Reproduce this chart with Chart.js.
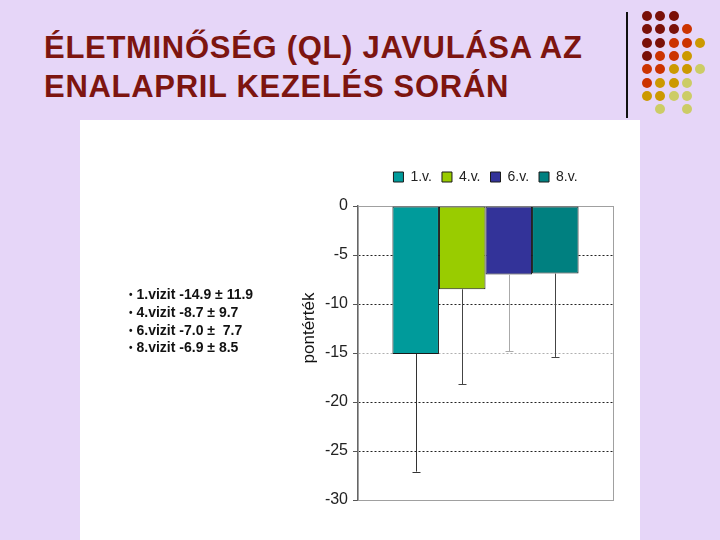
<!DOCTYPE html>
<html>
<head>
<meta charset="utf-8">
<script src="https://cdn.jsdelivr.net/npm/chart.js@4.4.0/dist/chart.umd.min.js"></script>
<style>
  body { margin: 0; width: 720px; height: 540px; background: #e6d6f8; position: relative; overflow: hidden; font-family: "Liberation Sans", Arial, sans-serif; }
  #title { position: absolute; left: 44px; top: 28px; margin: 0; font-size: 31px; line-height: 39px; font-weight: bold; color: #7d1510; letter-spacing: 0.7px; }
  #vline { position: absolute; left: 626px; top: 12px; width: 2px; height: 106px; background: #111; }
  .dot { position: absolute; width: 10px; height: 10px; border-radius: 50%; }
  #panel { position: absolute; left: 80px; top: 120px; width: 560px; height: 420px; background: #fff; }
  #notes { position: absolute; left: 129px; top: 286px; margin: 0; padding: 0; list-style: none; font-size: 14px; font-weight: bold; line-height: 17.8px; color: #111; }
  #notes li { white-space: pre; }
  #notes li::before { content: "\2022"; margin-right: 4px; font-size: 10px; vertical-align: 1px; }
</style>
</head>
<body>
<h1 id="title">ÉLETMINŐSÉG (QL) JAVULÁSA AZ<br>ENALAPRIL KEZELÉS SORÁN</h1>
<div id="vline"></div>
<div id="dots"></div>
<div id="panel"><canvas id="chart" width="560" height="420"></canvas></div>
<ul id="notes">
  <li>1.vizit -14.9 ± 11.9</li>
  <li>4.vizit -8.7 ± 9.7</li>
  <li>6.vizit -7.0 ±  7.7</li>
  <li>8.vizit -6.9 ± 8.5</li>
</ul>
<script>
// chart data
const seriesNames = ['1.v.', '4.v.', '6.v.', '8.v.'];
const seriesValues = [-15.1, -8.5, -7.0, -6.9];
const seriesErrors = [12.0, 9.7, 7.8, 8.5];
const seriesColors = ['#009b9b', '#99cc00', '#333399', '#008080'];
const errorColors = ['#333', '#444', '#aaa', '#444'];
const yTicks = [0, -5, -10, -15, -20, -25, -30];

// decorative dot grid in the corner
const dotRows = [
    ['m', 'm', 'm'],
    ['m', 'm', 'm', 'r'],
    ['m', 'm', 'r', 'r', 'g'],
    ['m', 'r', 'r', 'g'],
    ['r', 'r', 'g', 'g', 'p'],
    ['r', 'g', 'g', 'p'],
    ['g', 'g', 'p', 'p'],
    ['', 'p', '', 'p']
];
const dotColors = { m: '#7a1008', r: '#cc3300', g: '#cc9900', p: '#cccc66' };
const dotsElem = document.getElementById('dots');
dotRows.forEach((row, r) => {
    row.forEach((c, col) => {
        if (!c) return;
        const d = document.createElement('div');
        d.className = 'dot';
        d.style.left = (642 + col * 13.3) + 'px';
        d.style.top = (11 + r * 13.3) + 'px';
        d.style.background = dotColors[c];
        dotsElem.appendChild(d);
    });
});

// frame round the plot area
const frame = {
    id: 'frame',
    beforeDatasetsDraw(chart) {
        const a = chart.chartArea;
        const ctx = chart.ctx;
        ctx.save();
        ctx.strokeStyle = '#a0a0a0';
        ctx.lineWidth = 1;
        ctx.strokeRect(a.left + 0.5, a.top + 0.5, a.right - a.left, a.bottom - a.top);
        ctx.restore();
    }
};

// minus error bars
const errorBars = {
    id: 'errorBars',
    afterDatasetsDraw(chart) {
        const ctx = chart.ctx;
        const y = chart.scales.y;
        ctx.save();
        ctx.lineWidth = 1;
        chart.data.datasets.forEach((ds, i) => {
            const bar = chart.getDatasetMeta(i).data[0];
            const yLow = y.getPixelForValue(seriesValues[i] - seriesErrors[i]);
            const x = Math.round(bar.x) + 0.5;
            ctx.strokeStyle = errorColors[i];
            ctx.beginPath();
            ctx.moveTo(x, bar.y);
            ctx.lineTo(x, yLow);
            ctx.moveTo(x - 4, Math.round(yLow) + 0.5);
            ctx.lineTo(x + 4, Math.round(yLow) + 0.5);
            ctx.stroke();
        });
        ctx.restore();
    }
};

// rotated axis caption, placed like the original
const yCaption = {
    id: 'yCaption',
    afterDraw(chart) {
        const ctx = chart.ctx;
        ctx.save();
        ctx.translate(229, 208);
        ctx.rotate(-Math.PI / 2);
        ctx.font = '17px "Liberation Sans", Arial, sans-serif';
        ctx.fillStyle = '#111';
        ctx.textAlign = 'center';
        ctx.textBaseline = 'middle';
        ctx.fillText('pontérték', 0, 0);
        ctx.restore();
    }
};

// extra room under the legend, and centre it over the plot area
const legendGap = {
    id: 'legendGap',
    beforeInit(chart) {
        const fit = chart.legend.fit;
        chart.legend.fit = function () {
            fit.bind(chart.legend)();
            this.height += 12;
        };
    },
    afterLayout(chart) {
        const lg = chart.legend;
        lg.left = chart.chartArea.left;
        lg.right = chart.chartArea.right;
        lg.width = lg.right - lg.left;
    }
};

new Chart(document.getElementById('chart'), {
    type: 'bar',
    data: {
        labels: [''],
        datasets: seriesNames.map((name, i) => ({
            label: name,
            data: [seriesValues[i]],
            backgroundColor: seriesColors[i],
            borderColor: '#1a1a1a',
            borderWidth: 1,
            borderSkipped: false,
            categoryPercentage: 0.73,
            barPercentage: 1
        }))
    },
    options: {
        responsive: false,
        animation: false,
        layout: { padding: { left: 0, right: 27, top: 40, bottom: 40 } },
        plugins: {
            legend: {
                position: 'top',
                labels: {
                    boxWidth: 10,
                    boxHeight: 10,
                    padding: 10,
                    color: '#222',
                    font: { family: '"Liberation Sans", Arial, sans-serif', size: 14 }
                }
            },
            tooltip: { enabled: false }
        },
        scales: {
            x: {
                ticks: { display: false },
                grid: { display: false, drawTicks: false },
                border: { display: true, color: '#707070', width: 1 }
            },
            y: {
                min: -30,
                max: 0,
                afterBuildTicks(scale) {
                    scale.ticks = yTicks.map(v => ({ value: v }));
                },
                afterFit(scale) {
                    scale.width = 278;
                },
                ticks: {
                    padding: 5,
                    color: '#222',
                    font: { family: '"Liberation Sans", Arial, sans-serif', size: 16 }
                },
                grid: {
                    color: ctx => ctx.tick.value === 0 ? 'rgba(0,0,0,0)' : (ctx.tick.value === -15 ? '#b0b0b0' : '#222'),
                    tickColor: '#555',
                    tickLength: 5,
                    tickBorderDash: [],
                    lineWidth: 1
                },
                border: { display: true, color: '#666', width: 1.5, dash: [2, 2] }
            }
        }
    },
    plugins: [frame, errorBars, yCaption, legendGap]
});
</script>
</body>
</html>
